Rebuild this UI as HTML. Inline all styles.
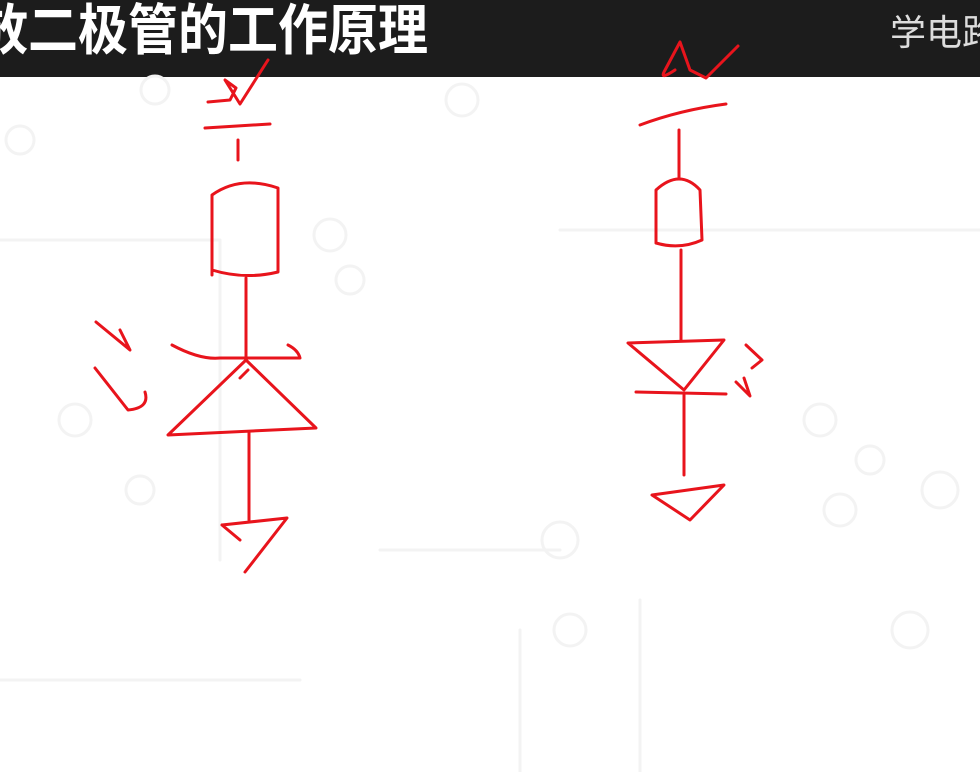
<!DOCTYPE html>
<html><head><meta charset="utf-8"><style>
body{margin:0;width:980px;height:772px;overflow:hidden;background:#fff;position:relative;font-family:"Liberation Sans","Noto Sans CJK SC",sans-serif}
.hd{position:absolute;left:0;top:0;width:980px;height:77px;background:#1c1c1c}
.t{position:absolute;left:-22px;top:-2px;font-size:50px;font-weight:bold;color:#fff;white-space:nowrap;line-height:60px;transform:scaleY(1.1);transform-origin:top left}
.r{position:absolute;left:890px;top:8px;font-size:36px;color:#ddd;white-space:nowrap;line-height:50px}
svg{position:absolute;left:0;top:0}
</style></head><body>
<div class="hd"><div class="t">放二极管的工作原理</div><div class="r">学电路</div></div>
<svg width="980" height="772" fill="none" stroke-linecap="round" stroke-linejoin="round">
<g stroke="#f3f3f3" stroke-width="3">
<circle cx="155" cy="90" r="14"/><circle cx="462" cy="100" r="16"/><circle cx="20" cy="140" r="14"/><circle cx="330" cy="235" r="16"/><circle cx="350" cy="280" r="14"/><circle cx="140" cy="490" r="14"/><circle cx="560" cy="540" r="18"/><circle cx="820" cy="420" r="16"/><circle cx="870" cy="460" r="14"/><circle cx="840" cy="510" r="16"/><circle cx="940" cy="490" r="18"/><circle cx="910" cy="630" r="18"/><circle cx="570" cy="630" r="16"/><circle cx="75" cy="420" r="16"/>
<path d="M0 240H220V560M560 230H980M520 630V772M640 600V772M380 550H560M0 680H300"/>
</g>
<g stroke="#e8141c" stroke-width="3">
<path d="M208 102L230 100 236 88 225 80 240 104 268 60"/>
<path d="M205 128L270 124"/>
<path d="M238 140V160"/>
<path d="M212 275V195Q240 175 278 188V272Q245 280 212 270"/>
<path d="M246 278V360"/>
<path d="M172 345Q200 360 220 358L300 358Q298 350 288 345"/>
<path d="M246 360L168 435 316 428Z"/>
<path d="M240 378L248 370"/>
<path d="M249 432V520"/>
<path d="M222 525L287 518 245 572M222 525L240 540"/>
<path d="M96 322L130 350 120 330"/>
<path d="M95 368L128 410Q150 408 145 392"/>
<path d="M675 70Q660 80 664 72L680 42 690 70 706 78 738 46"/>
<path d="M640 125Q680 110 726 104"/>
<path d="M679 130V178"/>
<path d="M656 243V190Q680 168 700 190L702 240Q680 250 656 243"/>
<path d="M681 250V340"/>
<path d="M628 343L724 340 684 390Z"/>
<path d="M636 392L726 394"/>
<path d="M684 395V475"/>
<path d="M652 495L724 485 690 520Z"/>
<path d="M746 345L762 360 752 368M736 382L750 396 744 378"/>
</g>
</svg>
</body></html>
